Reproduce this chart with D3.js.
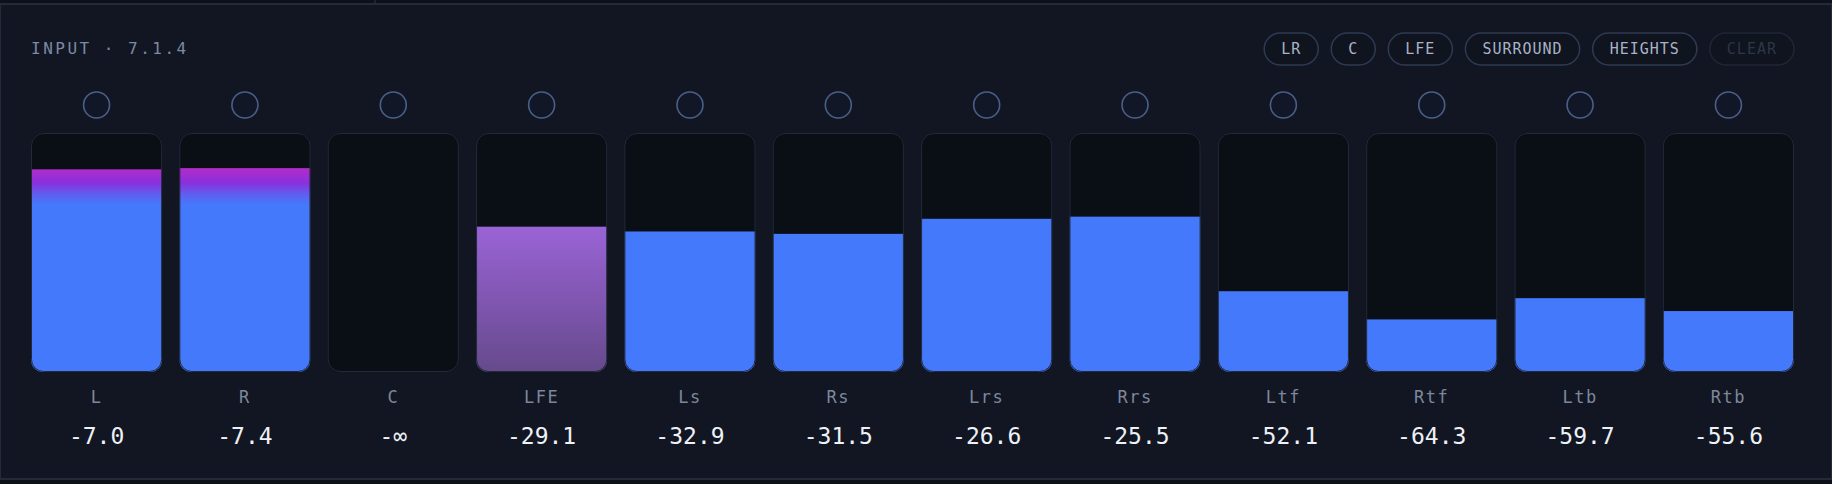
<!DOCTYPE html>
<html><head><meta charset="utf-8">
<script src="https://cdn.jsdelivr.net/npm/d3@7"></script>
<style>
html,body{margin:0;background:#0e121b;overflow:hidden}
</style></head><body>
<svg id="chart" width="1832" height="484"></svg>
<script>
// Kanaele, Peak-Werte (Text) und Meter-Pegel (Anteil der Skala)
const channels = ["L","R","C","LFE","Ls","Rs","Lrs","Rrs","Ltf","Rtf","Ltb","Rtb"];
const valueLabels = ["-7.0","-7.4","-∞","-29.1","-32.9","-31.5","-26.6","-25.5","-52.1","-64.3","-59.7","-55.6"];
const levels = [0.848,0.853,0,0.608,0.588,0.578,0.641,0.650,0.338,0.220,0.309,0.255];
const buttons = ["LR","C","LFE","SURROUND","HEIGHTS","CLEAR"];

const W = 1832, H = 484;
const svg = d3.select("#chart");
const mono = "'DejaVu Sans Mono', monospace";

// Hintergrund / Panel
svg.append("rect").attr("width", W).attr("height", H).attr("fill", "#0c1018");
svg.append("rect").attr("x", 0).attr("y", 4).attr("width", W).attr("height", 475)
  .attr("fill", "#111622").attr("stroke", "#232b3b").attr("stroke-width", 2);
svg.append("line").attr("x1", 375).attr("x2", 375).attr("y1", 0).attr("y2", 4)
  .attr("stroke", "#2a3344");

// Titel
svg.append("text").attr("x", 31).attr("y", 54)
  .attr("fill", "#7d8aa5").attr("font-family", mono).attr("font-size", 16)
  .attr("letter-spacing", 2.5).text("INPUT · 7.1.4");

// Buttons (rechtsbuendig)
let bx = 1794;
const btnG = svg.append("g");
[...buttons].reverse().forEach((b, i) => {
  const dim = b === "CLEAR";
  const t = btnG.append("text").attr("y", 54).attr("font-family", mono)
    .attr("font-size", 15).attr("letter-spacing", 1)
    .attr("fill", dim ? "#2e3648" : "#a9b3c6").attr("text-anchor", "middle").text(b);
  const w = t.node().getComputedTextLength() + 34;
  const x0 = bx - w;
  btnG.insert("rect", "text").attr("x", x0).attr("y", 33).attr("width", w).attr("height", 32)
    .attr("rx", 16).attr("fill", "#0f141f").attr("stroke", dim ? "#1f2636" : "#2f3a52").attr("stroke-width", 1.5);
  t.attr("x", x0 + w / 2);
  bx = x0 - 13;
});

// Skalen
const x = d3.scaleBand().domain(channels).range([31, 1794]).paddingInner(0.116).paddingOuter(0);
const frameTop = 133, frameBottom = 372;
const y = d3.scaleLinear().domain([0, 1]).range([frameBottom, frameTop]);

// Gradients
const defs = svg.append("defs");
const gHot = defs.append("linearGradient").attr("id", "hot")
  .attr("gradientUnits", "userSpaceOnUse").attr("x1", 0).attr("x2", 0).attr("y1", 168).attr("y2", 205);
[["0%","#b42cc8"],["40%","#8a30dc"],["75%","#5a63f2"],["100%","#4479fb"]]
  .forEach(([o,c]) => gHot.append("stop").attr("offset", o).attr("stop-color", c));
const gLfe = defs.append("linearGradient").attr("id", "lfe").attr("x1", 0).attr("x2", 0).attr("y1", 0).attr("y2", 1);
gLfe.append("stop").attr("offset", "0%").attr("stop-color", "#9a63d6");
gLfe.append("stop").attr("offset", "100%").attr("stop-color", "#664a8c");

const fillFor = (d, i) => d === "LFE" ? "url(#lfe)" : (levels[i] > 0.8 ? "url(#hot)" : "#4479fb");

channels.forEach((ch, i) => {
  const g = svg.append("g");
  const x0 = x(ch), bw = x.bandwidth(), cx = x0 + bw / 2;
  const clipId = "clip" + i;
  defs.append("clipPath").attr("id", clipId).append("rect")
    .attr("x", x0).attr("y", frameTop).attr("width", bw).attr("height", frameBottom - frameTop).attr("rx", 12);

  g.append("circle").attr("cx", cx).attr("cy", 105).attr("r", 13)
    .attr("fill", "#111727").attr("stroke", "#4a5f88").attr("stroke-width", 1.6);

  g.append("rect").attr("x", x0).attr("y", frameTop).attr("width", bw).attr("height", frameBottom - frameTop)
    .attr("rx", 12).attr("fill", "#0a0f16");
  if (levels[i] > 0) {
    g.append("rect").attr("clip-path", `url(#${clipId})`)
      .attr("x", x0).attr("y", y(levels[i])).attr("width", bw).attr("height", frameBottom - y(levels[i]))
      .attr("fill", fillFor(ch, i));
  }
  g.append("rect").attr("x", x0 + 0.5).attr("y", frameTop + 0.5).attr("width", bw - 1).attr("height", frameBottom - frameTop - 1)
    .attr("rx", 12).attr("fill", "none").attr("stroke", "#222a3a").attr("stroke-width", 1);

  g.append("text").attr("x", cx).attr("y", 403).attr("text-anchor", "middle")
    .attr("font-family", mono).attr("font-size", 17).attr("letter-spacing", 1.5)
    .attr("fill", "#7c879c").text(ch);
  g.append("text").attr("x", cx).attr("y", 444).attr("text-anchor", "middle")
    .attr("font-family", mono).attr("font-size", 23)
    .attr("fill", "#eef1f6").text(valueLabels[i]);
});
</script>
</body></html>
